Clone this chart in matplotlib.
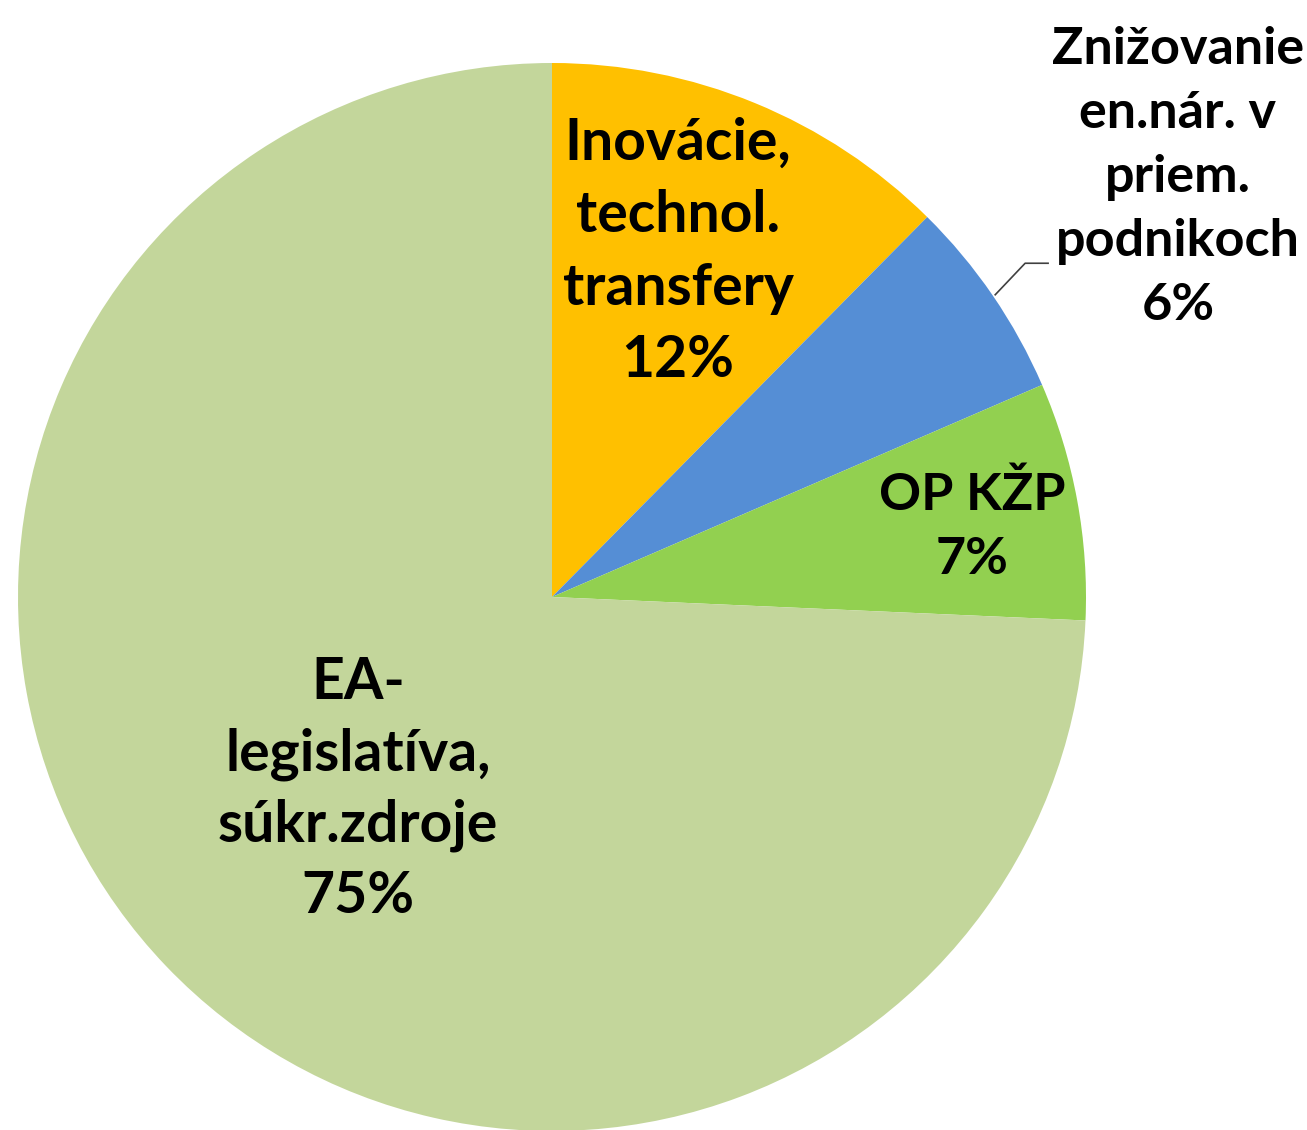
import matplotlib.pyplot as plt

# slice shares (clockwise from 12 o'clock)
names = ['Inovácie,\ntechnol.\ntransfery', 'Znižovanie\nen.nár. v\npriem.\npodnikoch',
         'OP KŽP', 'EA-\nlegislatíva,\nsúkr.zdroje']
shares = [12.4, 6.1, 7.2, 74.3]
pct_labels = ['12%', '6%', '7%', '75%']
colors = ['#FFC000', '#558ED5', '#92D050', '#C3D69B']

W, H = 1307, 1130
fig = plt.figure(figsize=(W / 100, H / 100), dpi=100)
ax = fig.add_axes([0, 0, 1, 1])

cx, cy, r = 552, H - 597, 534
ax.pie(shares, colors=colors, startangle=90, counterclock=False,
       center=(cx, cy), radius=r, frame=True,
       wedgeprops=dict(linewidth=0))
ax.set_xlim(0, W)
ax.set_ylim(0, H)
ax.set_aspect('equal')
ax.axis('off')

font = dict(family=['Lato', 'DejaVu Sans'], fontweight='bold',
            ha='center', va='center')

# label anchors, relative to pie centre in units of radius
offsets = [(0.236, 0.646), (1.172, 0.786), (0.787, 0.131), (-0.363, -0.361)]
sizes = [41, 37.5, 37.5, 41]
spacing = [1.45, 1.45, 1.45, 1.42]
for name, pct, (fx, fy), fs, ls in zip(names, pct_labels, offsets, sizes, spacing):
    ax.text(cx + fx * r, cy + fy * r, name + '\n' + pct,
            fontsize=fs, linespacing=ls, **font)

# leader line for the small blue slice
ax.plot([cx + 0.83 * r, cx + 0.886 * r, cx + 0.929 * r],
        [cy + 0.566 * r, cy + 0.625 * r, cy + 0.625 * r],
        color='#404040', linewidth=1.2)

fig.savefig('out.png', dpi=100)
